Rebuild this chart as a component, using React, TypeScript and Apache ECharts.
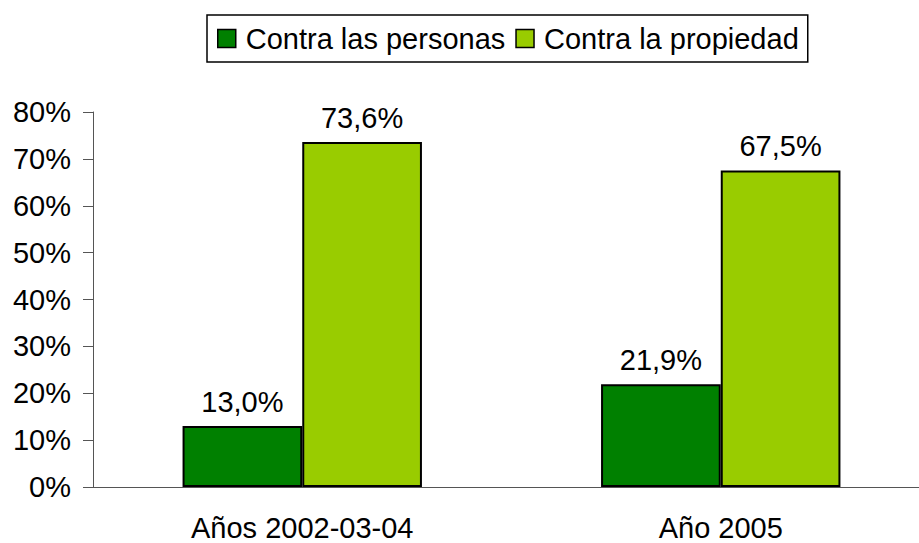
import React, { useEffect, useRef } from "react";
import * as echarts from "echarts";

const categories = ["Años 2002-03-04", "Año 2005"];
const personas = [13.0, 21.9];
const propiedad = [73.6, 67.5];
const seriesNames = ["Contra las personas", "Contra la propiedad"];

const FONT = "Liberation Sans, Arial, sans-serif";
const FS = 29;

export default function App() {
  const ref = useRef<HTMLDivElement>(null);
  useEffect(() => {
    const chart = echarts.init(ref.current!, undefined, { renderer: "svg" });
    const label = {
      show: true,
      position: "top",
      distance: 10,
      fontFamily: FONT,
      fontSize: FS,
      color: "#000",
      formatter: (p: any) => p.value.toFixed(1).replace(".", ",") + "%",
    };
    chart.setOption({
      animation: false,
      legend: {
        top: 15,
        left: 207,
        icon: "rect",
        itemWidth: 18,
        itemHeight: 18,
        itemGap: 10,
        padding: [9, 9, 9, 10],
        borderColor: "#000",
        borderWidth: 1.5,
        itemStyle: { borderColor: "#000", borderWidth: 1.5 },
        textStyle: { fontFamily: FONT, fontSize: FS, color: "#000", padding: [0, 0, 0, 5] },
        data: seriesNames,
      },
      grid: { left: 93, right: 0, top: 112, bottom: 56 },
      xAxis: {
        type: "category",
        data: categories,
        axisLine: { lineStyle: { color: "#555", width: 1 } },
        axisTick: { length: 10, lineStyle: { color: "#555" } },
        axisLabel: { fontFamily: FONT, fontSize: FS, color: "#000", margin: 26 },
      },
      yAxis: {
        type: "value",
        min: 0,
        max: 80,
        interval: 10,
        splitLine: { show: false },
        axisLine: { show: true, lineStyle: { color: "#555", width: 1 } },
        axisTick: { show: true, length: 10, lineStyle: { color: "#555" } },
        axisLabel: {
          fontFamily: FONT,
          fontSize: FS,
          color: "#000",
          margin: 22,
          formatter: (v: number) => v + "%",
        },
      },
      series: [
        {
          name: seriesNames[0],
          type: "bar",
          data: personas,
          barWidth: "28.6%",
          barGap: "0%",
          itemStyle: { color: "#008000", borderColor: "#000", borderWidth: 2 },
          label,
        },
        {
          name: seriesNames[1],
          type: "bar",
          data: propiedad,
          barWidth: "28.6%",
          itemStyle: { color: "#99CC00", borderColor: "#000", borderWidth: 2 },
          label,
        },
      ],
    });
    return () => chart.dispose();
  }, []);
  return (
    <div style={{ width: 919, height: 543, position: "absolute", left: 0, top: 0, overflow: "hidden" }}>
      <div ref={ref} style={{ width: 930, height: 543 }} />
    </div>
  );
}
